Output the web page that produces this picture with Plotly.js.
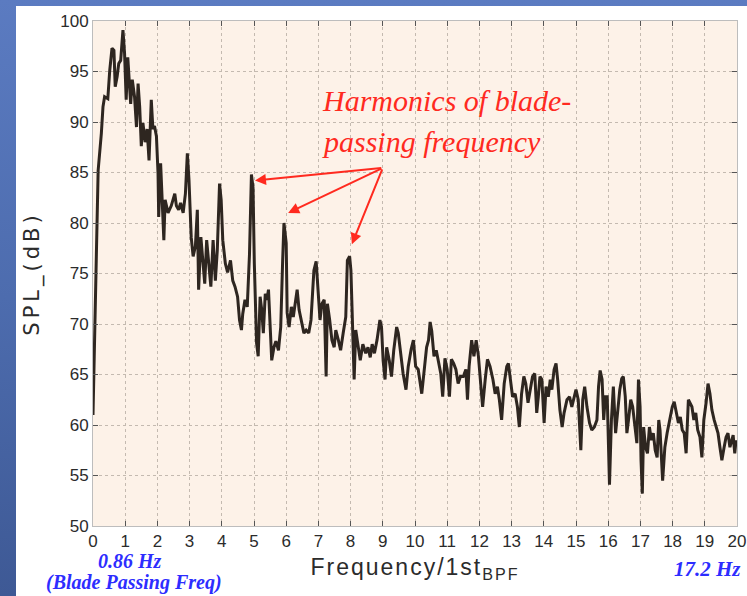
<!DOCTYPE html>
<html>
<head>
<meta charset="utf-8">
<script src="https://cdn.plot.ly/plotly-3.0.1.min.js"></script>
<style>
  html, body { margin: 0; padding: 0; width: 747px; height: 596px; overflow: hidden;
    background: linear-gradient(to bottom, #5b7bc1 0%, #4d6cae 50%, #3e5995 100%); }
  #chart { position: absolute; left: 16px; top: 6px; width: 731px; height: 590px; }
  #chart .ytitle { letter-spacing: 4px; }
  #chart .xtitle { letter-spacing: 2px; }
</style>
</head>
<body>
<div id="chart"></div>
<script>
// Frequency normalised by 1st blade-passing frequency
const freq = [0,0.05,0.1,0.16,0.26,0.31,0.36,0.46,0.52,0.59,0.65,0.69,0.75,0.80,0.86,0.93,0.98,1.03,1.08,1.14,1.17,1.22,1.29,1.35,1.40,1.45,1.50,1.55,1.62,1.68,1.74,1.81,1.86,1.91,1.97,2.02,2.04,2.10,2.14,2.20,2.24,2.33,2.43,2.54,2.59,2.66,2.72,2.80,2.87,2.93,2.98,3.05,3.11,3.18,3.24,3.28,3.35,3.42,3.47,3.53,3.60,3.66,3.73,3.80,3.86,3.93,3.98,4.03,4.11,4.18,4.27,4.34,4.41,4.49,4.55,4.61,4.65,4.72,4.79,4.86,4.92,4.97,5.01,5.05,5.08,5.13,5.19,5.24,5.29,5.35,5.40,5.45,5.50,5.55,5.62,5.68,5.76,5.83,5.89,5.93,6.00,6.03,6.09,6.16,6.22,6.28,6.34,6.40,6.48,6.55,6.62,6.70,6.77,6.86,6.93,7.00,7.05,7.11,7.18,7.24,7.28,7.35,7.42,7.49,7.54,7.62,7.69,7.77,7.85,7.90,7.97,8.01,8.06,8.11,8.16,8.23,8.30,8.38,8.47,8.54,8.61,8.67,8.74,8.82,8.91,8.96,9.01,9.07,9.12,9.20,9.27,9.34,9.43,9.48,9.55,9.63,9.72,9.79,9.88,9.95,10.02,10.10,10.21,10.28,10.36,10.42,10.47,10.52,10.59,10.66,10.73,10.80,10.86,10.93,11.00,11.07,11.13,11.20,11.27,11.34,11.41,11.50,11.58,11.63,11.68,11.76,11.83,11.90,11.97,12.05,12.10,12.18,12.25,12.33,12.42,12.49,12.56,12.62,12.69,12.77,12.85,12.90,12.97,13.03,13.11,13.18,13.24,13.31,13.38,13.44,13.51,13.59,13.65,13.72,13.78,13.83,13.88,13.94,14.01,14.07,14.14,14.20,14.25,14.32,14.38,14.43,14.50,14.57,14.63,14.72,14.80,14.87,14.94,15.00,15.07,15.15,15.21,15.27,15.34,15.42,15.49,15.57,15.65,15.70,15.75,15.81,15.86,15.91,15.97,16.01,16.04,16.10,16.16,16.23,16.30,16.36,16.42,16.47,16.53,16.58,16.63,16.70,16.76,16.83,16.89,16.94,16.99,17.02,17.06,17.10,17.16,17.22,17.28,17.34,17.40,17.46,17.52,17.57,17.61,17.69,17.76,17.83,17.91,17.99,18.05,18.12,18.18,18.24,18.30,18.36,18.42,18.49,18.54,18.60,18.66,18.72,18.78,18.85,18.91,18.97,19.04,19.10,19.16,19.22,19.29,19.35,19.41,19.47,19.53,19.60,19.66,19.72,19.78,19.84,19.88,19.93,19.97];
// Sound pressure level (dB)
const spl = [61,68,78,85.2,88.9,91.5,92.5,92.3,95.1,97.3,97.1,93.5,94.5,95.8,96.1,99.1,96.8,92.2,96.4,93.5,91.8,94.2,92.5,89.5,93.8,91.5,87.6,89.9,88.0,89.3,86.2,92.2,89.3,89.6,88.6,84.9,80.6,85.9,82.9,78.3,82.3,81.0,81.7,82.9,81.7,81.3,82.0,81.0,82.9,86.9,84.3,78.6,76.7,77.7,81.3,73.4,78.6,76.3,74.0,78.3,75.7,73.7,78.3,74.3,77.3,83.9,82.3,78.3,76.0,75.1,76.3,74.3,73.7,72.7,70.4,69.4,71.0,72.4,71.7,76.9,84.8,83.5,76.0,70.5,68.1,66.8,72.7,71.4,69.1,73.0,72.4,73.4,70.4,66.4,67.7,68.3,67.4,69.7,76.3,80.0,78.0,71.1,69.7,71.7,70.7,72.0,73.4,71.4,70.0,69.1,69.4,69.1,70.4,75.3,76.2,73.0,70.4,72.0,72.4,64.8,72.0,70.4,68.4,67.7,69.4,68.4,67.4,69.1,70.7,76.3,76.7,75.3,69.7,64.5,69.4,67.7,66.4,68.0,67.1,67.7,66.7,68.0,67.1,68.4,70.4,69.7,66.4,64.5,67.7,66.4,64.8,67.4,69.7,69.1,67.1,65.1,63.5,65.8,67.5,68.4,65.8,65.5,63.1,65.5,67.7,68.4,70.2,69.3,66.8,67.4,66.1,65.1,62.8,66.6,65.5,62.8,66.5,66.1,65.5,64.1,64.8,64.8,65.5,62.5,65.8,68.4,66.8,68.4,66.8,63.8,61.8,64.5,66.5,65.8,64.5,63.1,63.8,62.5,60.5,64.1,65.8,66.1,64.5,62.8,63.1,61.8,59.8,63.1,64.8,64.1,62.2,63.5,64.8,65.1,61.2,62.8,64.8,64.5,60.2,63.8,62.8,64.5,63.5,65.5,66.1,64.5,61.5,59.8,61.2,62.5,62.8,61.8,62.8,63.5,62.5,57.5,62.5,63.8,61.8,60.2,59.5,59.8,60.5,63.8,65.4,64.5,60.5,62.8,62.8,58.8,54.1,60.5,63.8,59.2,61.8,63.5,64.6,64.8,62.8,59.2,60.5,62.5,61.8,59.8,58.2,64.5,61.8,56.5,53.2,59.8,57.8,57.2,59.8,58.5,59.2,57.5,56.8,60.5,59.5,54.5,57.8,59.2,60.5,61.8,62.3,61.2,60.2,60.8,59.5,59.2,57.2,62.5,62.2,61.8,60.5,61.2,59.5,58.8,56.8,60.5,62.2,64.1,63.1,61.5,60.5,59.8,59.2,57.8,56.5,57.8,58.8,59.2,57.8,58.5,59.0,57.2,58.5];
const xTicks = [0,1,2,3,4,5,6,7,8,9,10,11,12,13,14,15,16,17,18,19,20];
const yTicks = [50,55,60,65,70,75,80,85,90,95,100];
// harmonic peaks pointed at by the arrows
const peakX = [5.03, 6.06, 8.04];
const peakY = [84.2, 81.0, 77.9];
const arrowTail = [9.0, 85.45];

const red = '#ff2a1f';
const blue = '#2d2dff';
const annotations = peakX.map((px, i) => ({
  x: px, y: peakY[i], xref: 'x', yref: 'y',
  ax: arrowTail[0], ay: arrowTail[1], axref: 'x', ayref: 'y',
  showarrow: true, arrowhead: 2, arrowsize: 1.1, arrowwidth: 2, arrowcolor: red, text: ''
}));
annotations.push(
  {x: 7.05, y: 92.1, xref: 'x', yref: 'y', xanchor: 'left', yanchor: 'middle', showarrow: false,
   text: 'Harmonics of blade-', font: {family: 'Liberation Serif', size: 30, color: red, style: 'italic'}},
  {x: 7.05, y: 88.1, xref: 'x', yref: 'y', xanchor: 'left', yanchor: 'middle', showarrow: false,
   text: 'passing frequency', font: {family: 'Liberation Serif', size: 30, color: red, style: 'italic'}},
  {x: 0.057, y: -0.07, xref: 'paper', yref: 'paper', xanchor: 'center', yanchor: 'middle', showarrow: false,
   text: '<b><i>0.86 Hz</i></b>', font: {family: 'Liberation Serif', size: 20, color: blue}},
  {x: 0.064, y: -0.111, xref: 'paper', yref: 'paper', xanchor: 'center', yanchor: 'middle', showarrow: false,
   text: '<b><i>(Blade Passing Freq)</i></b>', font: {family: 'Liberation Serif', size: 20, color: blue}},
  {x: 1.009, y: -0.086, xref: 'paper', yref: 'paper', xanchor: 'right', yanchor: 'middle', showarrow: false,
   text: '<b><i>17.2 Hz</i></b>', font: {family: 'Liberation Serif', size: 21, color: blue}}
);

const trace = {
  x: freq, y: spl, type: 'scatter', mode: 'lines',
  line: {color: '#2e2620', width: 3},
  hoverinfo: 'skip'
};

const axisCommon = {
  showgrid: true, gridcolor: '#c4bab0', griddash: 'dot', gridwidth: 1,
  ticks: 'inside', ticklen: 5, tickcolor: '#555', tickwidth: 1,
  showline: true, linecolor: '#bdbdbd', linewidth: 1, mirror: 'ticks',
  zeroline: false,
  tickfont: {family: 'Liberation Sans, Arial, sans-serif', size: 17, color: '#2b2b2b'}
};

const layout = {
  width: 731, height: 590,
  margin: {l: 77, r: 10, t: 15, b: 70},
  paper_bgcolor: '#ffffff',
  plot_bgcolor: '#fdf2e8',
  showlegend: false,
  xaxis: Object.assign({}, axisCommon, {
    range: [0, 20], tickvals: xTicks, ticktext: xTicks.map(String),
    title: {text: 'Frequency/1st<sub>BPF</sub>', standoff: 8,
            font: {family: 'Liberation Sans, Arial, sans-serif', size: 23, color: '#2b2b2b'}}
  }),
  yaxis: Object.assign({}, axisCommon, {
    range: [50, 100], tickvals: yTicks, ticktext: yTicks.map(String),
    title: {text: 'SPL_(dB)', standoff: 14,
            font: {family: 'DejaVu Sans, sans-serif', size: 21, color: '#2b2b2b'}}
  }),
  annotations: annotations
};

Plotly.newPlot('chart', [trace], layout, {staticPlot: true, displayModeBar: false});
</script>
</body>
</html>
